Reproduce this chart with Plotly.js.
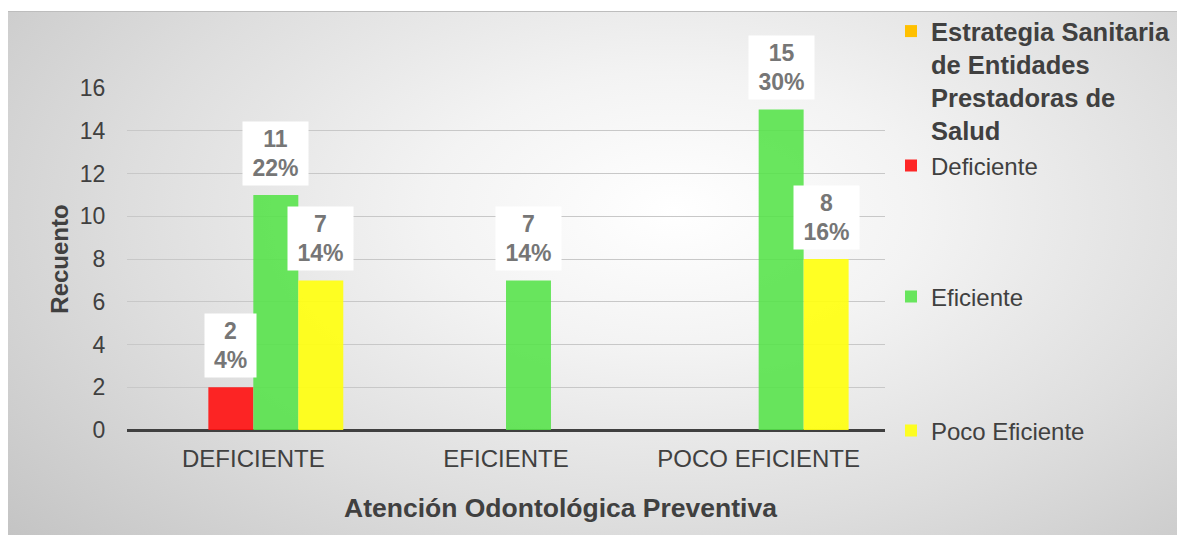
<!DOCTYPE html>
<html>
<head>
<meta charset="utf-8">
<script src="https://cdn.plot.ly/plotly-3.0.1.min.js"></script>
<style>
  html, body { margin: 0; padding: 0; background: #ffffff; width: 1177px; height: 535px; overflow: hidden; }
  #bg {
    position: absolute; left: 8px; top: 11px; width: 1169px; height: 524px;
    border-top: 1px solid #bdbdbd;
    background: radial-gradient(ellipse 75% 95% at 57% 38%, #ffffff 0%, #f3f3f3 28%, #dedede 62%, #c4c4c4 100%);
  }
  #chart { position: absolute; left: 0; top: 0; width: 1177px; height: 535px; }
</style>
</head>
<body>
<div id="bg"></div>
<div id="chart"></div>
<script>
// ---- data ----
const categories = ["DEFICIENTE", "EFICIENTE", "POCO EFICIENTE"];
const seriesNames = [
  "<b>Estrategia Sanitaria<br>de Entidades<br>Prestadoras de<br>Salud</b>",
  "Deficiente",
  "Eficiente",
  "Poco Eficiente"
];
const headerValues = [0, 0, 0];
const deficienteValues = [2, 0, 0];
const eficienteValues = [11, 7, 15];
const pocoEficienteValues = [7, 0, 8];
const deficientePct = [4, 0, 0];
const eficientePct = [22, 14, 30];
const pocoEficientePct = [14, 0, 16];
const yTicks = [0, 2, 4, 6, 8, 10, 12, 14, 16];

// ---- styling ----
const colors = ["#FFC000", "rgba(255,16,16,0.9)", "rgba(84,226,72,0.88)", "rgba(255,255,16,0.92)"];
const font = "Liberation Sans, Arial, sans-serif";
const ml = 127, mr = 292, mt = 88, mb = 105, W = 1177, H = 535;
const plotW = W - ml - mr, plotH = H - mt - mb;
const px2x = p => (p - ml) / plotW;
const py2y = p => (H - mb - p) / plotH;

const bargap = 0.288;
const nSeries = 4;
const bw = (1 - bargap) / nSeries;
const xIdx = categories.map((c, i) => i);

const allValues = [headerValues, deficienteValues, eficienteValues, pocoEficienteValues];
const allPct = [null, deficientePct, eficientePct, pocoEficientePct];

const legendIds = ["legend", "legend2", "legend3", "legend4"];
const traces = allValues.map((vals, j) => ({
  type: "bar",
  name: seriesNames[j],
  x: xIdx,
  y: vals,
  marker: { color: colors[j], line: { width: 0 } },
  legend: legendIds[j],
  hoverinfo: "skip",
  cliponaxis: false
}));

const annotations = [];
for (let j = 1; j < nSeries; j++) {
  allValues[j].forEach((v, i) => {
    if (!v) return;
    const p = allPct[j][i];
    const txt = v + "<br>" + p + "%";
    const maxLen = Math.max(String(v).length, String(p).length + 1);
    annotations.push({
      x: i + (j - (nSeries - 1) / 2) * bw,
      y: v,
      xref: "x", yref: "y",
      text: "<b>" + txt + "</b>",
      showarrow: false,
      yanchor: "bottom",
      xanchor: "center",
      yshift: 9,
      bgcolor: "#ffffff",
      width: 23 + 14 * maxLen,
      height: 63,
      borderpad: 0,
      font: { family: font, size: 23, color: "#767676" }
    });
  });
}

// x-axis title as annotation (centred like the reference)
annotations.push({
  xref: "paper", yref: "paper",
  x: px2x(560), y: py2y(508),
  text: "<b>Atención Odontológica Preventiva</b>",
  showarrow: false, xanchor: "center", yanchor: "middle",
  font: { family: font, size: 26.5, color: "#404040" }
});

const legendBase = {
  font: { family: font, size: 24, color: "#404040" },
  bgcolor: "rgba(0,0,0,0)",
  borderwidth: 0,
  xanchor: "left",
  itemclick: false,
  itemdoubleclick: false
};

const layout = {
  width: W, height: H,
  margin: { l: ml, r: mr, t: mt, b: mb, pad: 0, autoexpand: false },
  paper_bgcolor: "rgba(0,0,0,0)",
  plot_bgcolor: "rgba(0,0,0,0)",
  barmode: "group",
  bargap: bargap,
  bargroupgap: 0,
  font: { family: font, color: "#404040" },
  showlegend: true,
  xaxis: {
    range: [-0.5, categories.length - 0.5],
    tickvals: xIdx,
    ticktext: categories,
    showgrid: false,
    showline: false,
    zeroline: false,
    ticks: "outside", ticklen: 7, tickcolor: "rgba(0,0,0,0)",
    tickfont: { family: font, size: 24, color: "#404040" },
    fixedrange: true
  },
  yaxis: {
    range: [0, 16],
    tickvals: yTicks,
    showgrid: true,
    gridcolor: "#c8c8c8",
    gridwidth: 1,
    zeroline: true,
    zerolinecolor: "#404040",
    zerolinewidth: 3,
    showline: false,
    ticks: "outside", ticklen: 16, tickcolor: "rgba(0,0,0,0)",
    tickfont: { family: font, size: 23, color: "#404040" },
    title: { text: "<b>Recuento</b>", font: { family: font, size: 24, color: "#404040" }, standoff: 4 },
    fixedrange: true
  },
  legend: Object.assign({}, legendBase, { x: px2x(891), y: py2y(8), yanchor: "top", valign: "top",
    font: { family: font, size: 25.5, color: "#404040" } }),
  legend2: Object.assign({}, legendBase, { x: px2x(891), y: py2y(166), yanchor: "middle" }),
  legend3: Object.assign({}, legendBase, { x: px2x(891), y: py2y(297), yanchor: "middle" }),
  legend4: Object.assign({}, legendBase, { x: px2x(891), y: py2y(431), yanchor: "middle" }),
  annotations: annotations
};

Plotly.newPlot("chart", traces, layout, { displayModeBar: false, staticPlot: true });
</script>
</body>
</html>
